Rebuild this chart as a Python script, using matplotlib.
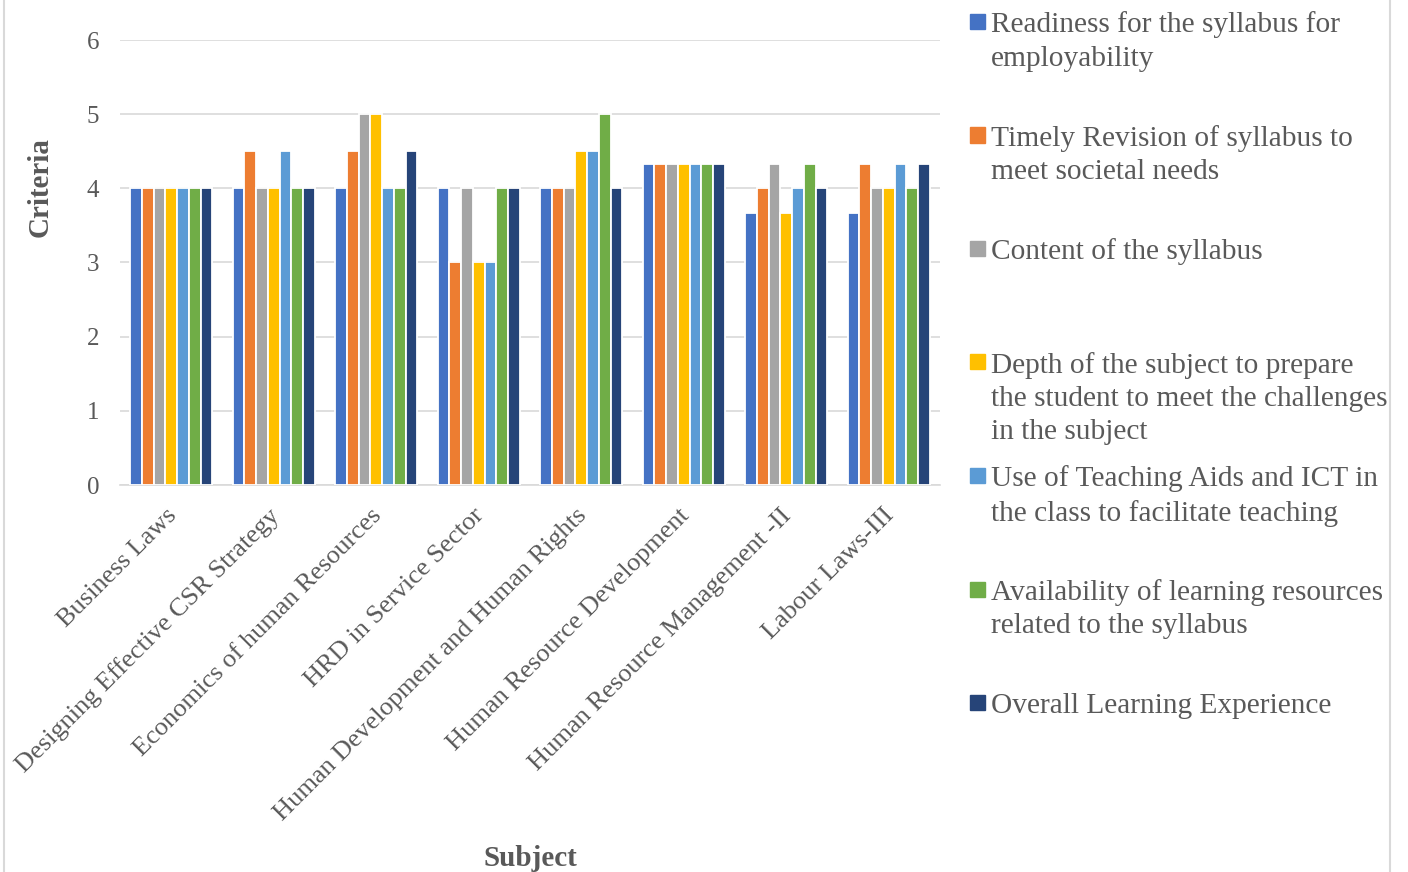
import numpy as np
import matplotlib
matplotlib.use('Agg')
import matplotlib.pyplot as plt
import matplotlib.transforms as mtransforms
from matplotlib.patches import Rectangle
from matplotlib.lines import Line2D

plt.rcParams['font.family'] = ['Liberation Serif', 'DejaVu Serif']

subjects = ['Business Laws', 'Designing Effective CSR Strategy',
            'Economics of human Resources', 'HRD in Service Sector',
            'Human Development and Human Rights', 'Human Resource Development',
            'Human Resource Management -II', 'Labour Laws-III']

criteria = ['Readiness for the syllabus for\nemployability',
            'Timely Revision of syllabus to\nmeet societal needs',
            'Content of the syllabus',
            'Depth of the subject to prepare\nthe student to meet the challenges\nin the subject',
            'Use of Teaching Aids and ICT in\nthe class to facilitate teaching',
            'Availability of learning resources\nrelated to the syllabus',
            'Overall Learning Experience']

readiness    = [4, 4,   4,   4, 4,   4.33, 3.67, 3.67]
revision     = [4, 4.5, 4.5, 3, 4,   4.33, 4,    4.33]
content      = [4, 4,   5,   4, 4,   4.33, 4.33, 4]
depth        = [4, 4,   5,   3, 4.5, 4.33, 3.67, 4]
teaching     = [4, 4.5, 4,   3, 4.5, 4.33, 4,    4.33]
availability = [4, 4,   4,   4, 5,   4.33, 4.33, 4]
overall      = [4, 4,   4.5, 4, 4,   4.33, 4,    4.33]

series = [readiness, revision, content, depth, teaching, availability, overall]
colors = ['#4472C4', '#ED7D31', '#A5A5A5', '#FFC000', '#5B9BD5', '#70AD47', '#264478']

W, H = 1408, 872
fig = plt.figure(figsize=(W / 100, H / 100), dpi=100)
ax = fig.add_axes([120 / W, 1 - 485 / H, 820 / W, 445 / H])

x = np.arange(len(subjects))
n = len(series)
slot = 0.8 / n
for i, vals in enumerate(series):
    ax.bar(x - 0.4 + slot * (i + 0.5), vals, width=slot, color=colors[i],
           edgecolor='white', linewidth=1.3, zorder=3)

ax.set_xlim(-0.5, len(subjects) - 0.5)
ax.set_ylim(0, 6)
ax.set_yticks(range(7))
ax.yaxis.grid(True, color='#D9D9D9', linewidth=1.2, zorder=0)
for s in ['top', 'right', 'left']:
    ax.spines[s].set_visible(False)
ax.spines['bottom'].set_color('#D9D9D9')
ax.spines['bottom'].set_linewidth(1.2)
ax.tick_params(axis='both', length=0, colors='#595959')
ax.tick_params(axis='y', pad=15, labelsize=18)
ax.tick_params(axis='x', pad=14, labelsize=19)
ax.set_xticks(x)
ax.set_xticklabels(subjects, rotation=45, ha='right', va='top', rotation_mode='anchor')
shift = mtransforms.ScaledTranslation(-6 / 100, 0, fig.dpi_scale_trans)
for lab in ax.get_xticklabels():
    lab.set_transform(lab.get_transform() + shift)

fig.text(40 / W, 1 - 187 / H, 'Criteria', rotation=90, ha='center', va='center',
         fontsize=21, fontweight='bold', color='#595959')
fig.text(530 / W, 1 - 866 / H, 'Subject', ha='center', va='baseline',
         fontsize=21, fontweight='bold', color='#595959')

# legend drawn by hand so that the entries keep an even step
step = 113.5
for i, lab in enumerate(criteria):
    top = 14 + i * step
    fig.patches.append(Rectangle((970 / W, 1 - (top + 15) / H), 15 / W, 15 / H,
                                 transform=fig.transFigure, color=colors[i]))
    fig.text(991 / W, 1 - (top - 2.5) / H, lab, ha='left', va='top',
             fontsize=21.2, color='#595959', linespacing=1.36)

# chart frame edges
for xe in [3.5, 1390]:
    fig.add_artist(Line2D([xe / W, xe / W], [0, 1], transform=fig.transFigure,
                          color='#D9D9D9', linewidth=1.5))

fig.savefig('out.png', dpi=100)
